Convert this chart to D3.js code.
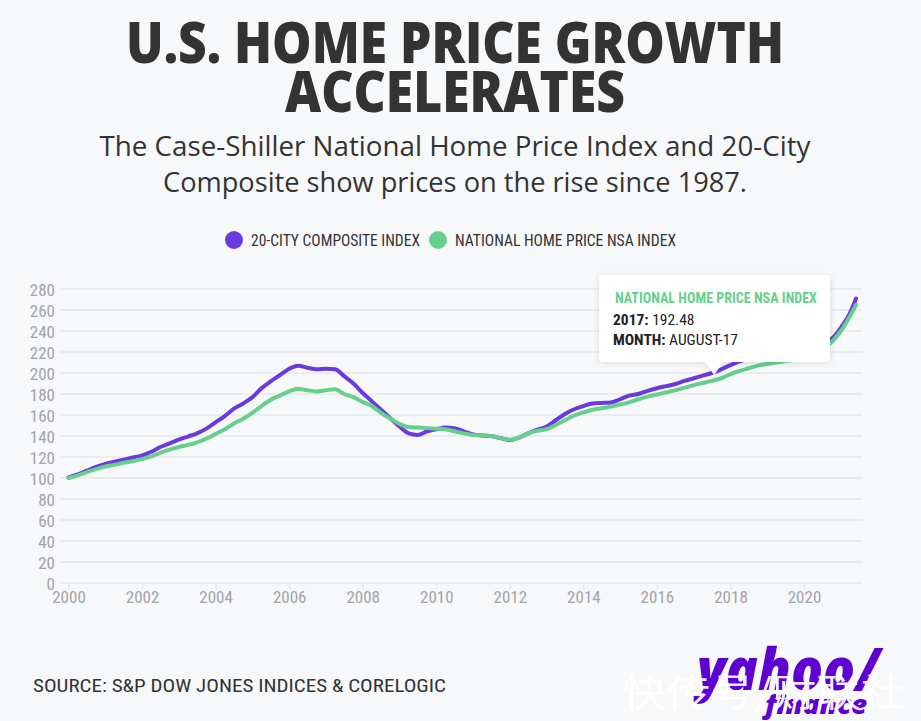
<!DOCTYPE html>
<html><head><meta charset="utf-8">
<script src="https://cdn.jsdelivr.net/npm/d3@7"></script>
<style>
html,body{margin:0;padding:0;background:#f7f8fa;}
svg{display:block;}
</style></head>
<body><svg id="c" width="921" height="721"></svg>
<script>
const title = ["U.S. HOME PRICE GROWTH", "ACCELERATES"];
const subtitle = ["The Case-Shiller National Home Price Index and 20-City", "Composite show prices on the rise since 1987."];
const seriesNames = ["20-CITY COMPOSITE INDEX", "NATIONAL HOME PRICE NSA INDEX"];
const seriesColors = ["#6b3ade", "#66cf8c"];
const yTicks = [0,20,40,60,80,100,120,140,160,180,200,220,240,260,280];
const xTickYears = [2000,2002,2004,2006,2008,2010,2012,2014,2016,2018,2020];
const months = [
"2000-01","2000-04","2000-07","2000-10","2001-01","2001-04","2001-07","2001-10",
"2002-01","2002-04","2002-07","2002-10","2003-01","2003-04","2003-07","2003-10",
"2004-01","2004-04","2004-07","2004-10","2005-01","2005-04","2005-07","2005-10",
"2006-01","2006-04","2006-07","2006-10","2007-01","2007-04","2007-07","2007-10",
"2008-01","2008-04","2008-07","2008-10","2009-01","2009-04","2009-07","2009-10",
"2010-01","2010-04","2010-07","2010-10","2011-01","2011-04","2011-07","2011-10",
"2012-01","2012-04","2012-07","2012-10","2013-01","2013-04","2013-07","2013-10",
"2014-01","2014-04","2014-07","2014-10","2015-01","2015-04","2015-07","2015-10",
"2016-01","2016-04","2016-07","2016-10","2017-01","2017-04","2017-07","2017-10",
"2018-01","2018-04","2018-07","2018-10","2019-01","2019-04","2019-07","2019-10",
"2020-01","2020-04","2020-07","2020-10","2021-01","2021-04","2021-06"];
const composite20 = [
100.5,103.5,107,110.5, 113.5,115.5,117.5,119.5,
121.5,125,129.5,133, 136.5,139.5,142.5,147,
153,159,166,171, 177,185.5,192,198,
204,207,205,203.5, 204,203.5,197,190,
181,173,165,157, 149,142.5,141,144.5,
146.5,148,147.5,144.5, 141.5,140.5,140,138,
136,138.5,142.5,146, 149,155,161,165.5,
168.5,171,171.5,172, 175,178.5,180,183,
185.5,187.5,189.5,192.5, 195,197.5,200,203.5,
207.5,211,213.5,215, 215.5,217,218.5,219.5,
221,224,228.5,232.5, 243,257,271];
const nationalNSA = [
100,102.5,105.5,108.5, 111,112.5,114.5,116,
118,120.5,124,127, 129.5,131.5,134,137.5,
142,146.5,152,156.5, 162,168.5,174.5,178.5,
182.5,185,183.5,182.5, 183.5,184.5,180,177,
172.5,168.5,162,156.5, 151.5,148.5,148,147.5,
147,146.5,144.5,142.5, 141,140.5,140,138,
136.5,138.5,142.5,145, 146.5,150.5,155,159.5,
162.5,165,166.5,168, 170,172,175,177.5,
179.5,181.5,183.5,186, 188.5,190.5,192.5,195,
199,202,204.5,207, 208.5,210,211.5,212.5,
214.5,217,222,229.5, 240,254,265];
const tooltipLines = {head:"NATIONAL HOME PRICE NSA INDEX", l1k:"2017:", l1v:" 192.48", l2k:"MONTH:", l2v:" AUGUST-17"};
const tooltipDate = "2017-08";
const tooltipValue = 192.48;
const sourceText = "SOURCE: S&P DOW JONES INDICES & CORELOGIC";

const svg = d3.select("#c");
const CX = 455;
const parse = d3.timeParse("%Y-%m");
const dates = months.map(parse);
const x = d3.scaleTime().domain([new Date(2000,0,1), new Date(2020,0,1)]).range([68.5, 804]);
const y = d3.scaleLinear().domain([0,280]).range([583, 289]);
const condensed = "'Liberation Sans Narrow','Roboto Condensed','Open Sans',sans-serif";
const dark = "#333333";

svg.append("rect").attr("width",921).attr("height",721).attr("fill","#f7f8fa");

function fit(t, w){ t.attr("textLength", w).attr("lengthAdjust","spacingAndGlyphs"); return t; }

// title
const tw = [658, 340], tb = [63, 112];
title.forEach((s,i)=>{
  fit(svg.append("text").attr("x",CX).attr("y",tb[i]).attr("text-anchor","middle")
    .attr("font-family","'Open Sans',sans-serif").attr("font-weight",800).attr("font-size",57)
    .attr("fill",dark).text(s), tw[i]);
});
const sw = [711, 584], sb = [156, 192];
subtitle.forEach((s,i)=>{
  fit(svg.append("text").attr("x",CX).attr("y",sb[i]).attr("text-anchor","middle")
    .attr("font-family","'Open Sans',sans-serif").attr("font-size",27.5)
    .attr("fill",dark).text(s), sw[i]);
});

// legend
const legX = [234, 438], legW = [169, 221];
seriesNames.forEach((n,i)=>{
  svg.append("circle").attr("cx",legX[i]).attr("cy",240).attr("r",9).attr("fill",seriesColors[i]);
  fit(svg.append("text").attr("x",legX[i]+17).attr("y",246).attr("font-family",condensed)
    .attr("font-size",16.5).attr("fill",dark).text(n), legW[i]);
});

// grid
const g = svg.append("g");
g.selectAll("line.grid").data(yTicks).join("line").attr("class","grid")
  .attr("x1",60).attr("x2",862).attr("y1",d=>y(d)).attr("y2",d=>y(d))
  .attr("stroke","#e7e8eb").attr("stroke-width",1.5);

const yAxis = d3.axisLeft(y).tickValues(yTicks).tickSize(0).tickPadding(0);
const ya = svg.append("g").attr("transform","translate(55,0)").call(yAxis);
ya.select(".domain").remove();
ya.selectAll("text").attr("font-family",condensed).attr("font-size",17).attr("fill","#a3a3a7").attr("dy","0.36em");

const xAxis = d3.axisBottom(x).tickValues(xTickYears.map(v=>new Date(v,0,1))).tickFormat(d3.timeFormat("%Y")).tickSize(6).tickPadding(2);
const xa = svg.append("g").attr("transform","translate(0,583)").call(xAxis);
xa.select(".domain").remove();
xa.selectAll("line").attr("stroke","#e3e4e7").attr("stroke-width",1.2);
xa.selectAll("text").attr("font-family",condensed).attr("font-size",17).attr("fill","#a3a3a7");

// lines
const line = d3.line().x((d,i)=>x(dates[i])).y(d=>y(d)).curve(d3.curveMonotoneX);
[composite20, nationalNSA].forEach((s,i)=>{
  svg.append("path").datum(s).attr("d",line).attr("fill","none").attr("stroke",seriesColors[i])
    .attr("stroke-width",4).attr("stroke-linejoin","round").attr("stroke-linecap","round");
});

// tooltip
const defs = svg.append("defs");
const f = defs.append("filter").attr("id","sh").attr("x","-20%").attr("y","-20%").attr("width","140%").attr("height","160%");
f.append("feDropShadow").attr("dx",0).attr("dy",1).attr("stdDeviation",3).attr("flood-color","#000").attr("flood-opacity",0.12);
const tipX = x(parse(tooltipDate)) - 1, tipY = y(tooltipValue) - 6;
const bx = 599, by = 275, bw = 231, bh = 87;
const tt = svg.append("g").attr("filter","url(#sh)");
tt.append("path").attr("fill","#fff")
  .attr("d",`M${bx+4},${by} H${bx+bw-4} Q${bx+bw},${by} ${bx+bw},${by+4} V${by+bh-4} Q${bx+bw},${by+bh} ${bx+bw-4},${by+bh} H${tipX+9} L${tipX},${tipY} L${tipX-9},${by+bh} H${bx+4} Q${bx},${by+bh} ${bx},${by+bh-4} V${by+4} Q${bx},${by} ${bx+4},${by} Z`);
fit(svg.append("text").attr("x",bx+16).attr("y",by+28).attr("font-family",condensed).attr("font-weight",700)
  .attr("font-size",15).attr("fill",seriesColors[1]).text(tooltipLines.head), 202);
const t1 = svg.append("text").attr("x",bx+14).attr("y",by+50).attr("font-family",condensed).attr("font-size",15.5).attr("fill","#222");
t1.append("tspan").attr("font-weight",700).text(tooltipLines.l1k);
t1.append("tspan").text(tooltipLines.l1v);
const t2 = svg.append("text").attr("x",bx+14).attr("y",by+70).attr("font-family",condensed).attr("font-size",15.5).attr("fill","#222");
t2.append("tspan").attr("font-weight",700).text(tooltipLines.l2k);
t2.append("tspan").text(tooltipLines.l2v);

// source
fit(svg.append("text").attr("x",33).attr("y",692).attr("font-family",condensed).attr("font-size",18.5)
  .attr("fill",dark).text(sourceText), 413);

// logo
fit(svg.append("text").attr("x",697).attr("y",690).attr("font-family","'Open Sans',sans-serif").attr("font-weight",800)
  .attr("font-style","italic").attr("font-size",58).attr("fill","#5f01d1").text("yahoo/"), 183);
fit(svg.append("text").attr("x",765).attr("y",714).attr("font-family","'Open Sans',sans-serif").attr("font-weight",800)
  .attr("font-style","italic").attr("font-size",26).attr("fill","#5f01d1").text("finance"), 102);
fit(svg.append("text").attr("x",622).attr("y",706).attr("font-family","'Noto Sans CJK SC',sans-serif")
  .attr("font-size",38).attr("fill","#ffffff").attr("opacity",0.92).text("快传号/财联社"), 283);
</script></body></html>
